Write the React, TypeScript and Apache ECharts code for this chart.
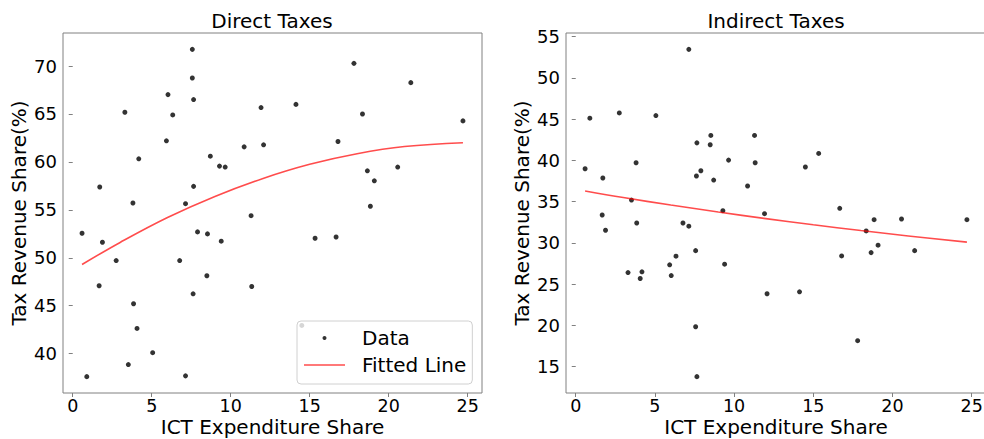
import React, { useEffect, useRef } from "react";
import * as echarts from "echarts";

// ICT expenditure share per country (shared x for both panels)
const ictShare = [
  0.59, 0.89, 1.67, 1.71, 1.88, 2.75, 3.3, 3.52, 3.81, 3.85, 4.07, 4.18, 5.06,
  5.93, 6.03, 6.33, 6.77, 7.14, 7.14, 7.57, 7.57, 7.62, 7.65, 7.65, 7.9, 8.49,
  8.53, 8.71, 9.29, 9.4, 9.65, 10.85, 11.29, 11.33, 11.92, 12.08, 14.13, 14.5,
  15.34, 16.67, 16.79, 17.8, 18.34, 18.65, 18.84, 19.09, 20.57, 21.4, 24.7,
];

const directShare = [
  52.56, 37.6, 47.08, 57.38, 51.62, 49.71, 65.18, 38.86, 55.71, 45.2, 42.63,
  60.32, 40.1, 62.2, 67.02, 64.9, 49.71, 55.64, 37.68, 71.74, 68.75, 46.24, 66.5,
  57.45, 52.7, 48.12, 52.49, 60.6, 59.56, 51.73, 59.46, 61.57, 54.39, 47.0,
  65.67, 61.78, 66.0, 42.94, 52.04, 52.17, 62.13, 70.28, 65.0, 59.07, 55.37,
  58.03, 59.46, 68.27, 64.28,
];

const indirectShare = [
  38.99, 45.12, 33.39, 37.87, 31.54, 45.76, 26.41, 35.2, 39.72, 32.42, 25.69,
  26.5, 45.44, 27.35, 26.05, 28.4, 32.42, 53.46, 32.03, 29.07, 19.85, 38.11,
  42.13, 13.8, 38.75, 41.9, 43.03, 37.62, 33.91, 27.43, 40.04, 36.9, 43.03,
  39.72, 33.55, 23.84, 24.08, 39.2, 40.85, 34.2, 28.43, 18.16, 31.46, 28.83,
  32.82, 29.73, 32.9, 29.07, 32.82,
];

// Fitted curves
const fitX = [0.59, 3, 6, 9, 12, 15, 18, 21, 24.7];
const directFit = [49.3, 51.6, 54.2, 56.4, 58.25, 59.75, 60.85, 61.6, 62.0];
const indirectFit = [36.3, 35.5, 34.6, 33.75, 32.95, 32.2, 31.5, 30.85, 30.1];

const xTicks = [0, 5, 10, 15, 20, 25];
const directTicks = [40, 45, 50, 55, 60, 65, 70];
const indirectTicks = [15, 20, 25, 30, 35, 40, 45, 50, 55];

const titles = ["Direct Taxes", "Indirect Taxes"];
const xName = "ICT Expenditure Share";
const yName = "Tax Revenue Share(%)";

function padExtent(vals: number[]): [number, number] {
  const mn = Math.min(...vals);
  const mx = Math.max(...vals);
  const r = mx - mn;
  return [mn - 0.05 * r, mx + 0.05 * r];
}

const FONT = "DejaVu Sans";
const GRID_LINE = "#808080";

function xAxisFor(gridIndex: number) {
  const ext = padExtent(ictShare);
  return {
    type: "value",
    gridIndex,
    min: ext[0],
    max: ext[1],
    name: xName,
    nameLocation: "middle",
    nameGap: 25,
    nameMoveOverlap: false,
    nameTextStyle: {
      fontSize: 20,
      color: "#000",
      fontFamily: FONT,
      lineHeight: 18,
    },
    axisLine: { show: false },
    axisTick: {
      show: true,
      length: 4,
      lineStyle: { color: GRID_LINE, width: 1 },
      customValues: xTicks,
    },
    axisLabel: {
      fontSize: 17.5,
      color: "#000",
      margin: 5,
      fontFamily: FONT,
      lineHeight: 15,
      customValues: xTicks,
    },
    splitLine: { show: false },
  };
}

function yAxisFor(gridIndex: number, vals: number[], ticks: number[]) {
  const ext = padExtent(vals);
  return {
    type: "value",
    gridIndex,
    min: ext[0],
    max: ext[1],
    name: yName,
    nameLocation: "middle",
    nameGap: 34,
    nameMoveOverlap: false,
    nameTextStyle: { fontSize: 20, color: "#000", fontFamily: FONT },
    axisLine: { show: false },
    axisTick: {
      show: true,
      length: 4,
      lineStyle: { color: GRID_LINE, width: 1 },
      customValues: ticks,
    },
    axisLabel: {
      fontSize: 18,
      color: "#000",
      margin: 6,
      fontFamily: FONT,
      customValues: ticks,
    },
    splitLine: { show: false },
  };
}

export default function App() {
  const ref = useRef<HTMLDivElement>(null);

  useEffect(() => {
    document.body.style.margin = "0";
    if (!ref.current) return;
    const chart = echarts.init(ref.current, null, { renderer: "svg" });

    const directPts = ictShare.map((x, i) => [x, directShare[i]]);
    const indirectPts = ictShare.map((x, i) => [x, indirectShare[i]]);
    const directFitPts = fitX.map((x, i) => [x, directFit[i]]);
    const indirectFitPts = fitX.map((x, i) => [x, indirectFit[i]]);

    const lineColor = "rgba(255,0,0,0.7)";

    chart.setOption({
      animation: false,
      textStyle: { fontFamily: FONT },
      grid: [
        {
          left: 63,
          top: 33,
          width: 419,
          height: 360,
          show: true,
          borderColor: GRID_LINE,
          borderWidth: 1,
          backgroundColor: "transparent",
          outerBoundsMode: "none",
        },
        {
          left: 566,
          top: 33,
          width: 420,
          height: 360,
          show: true,
          borderColor: GRID_LINE,
          borderWidth: 1,
          backgroundColor: "transparent",
          outerBoundsMode: "none",
        },
      ],
      xAxis: [xAxisFor(0), xAxisFor(1)],
      yAxis: [
        yAxisFor(0, directShare, directTicks),
        yAxisFor(1, indirectShare, indirectTicks),
      ],
      legend: {
        show: true,
        orient: "vertical",
        left: 297,
        top: 321,
        padding: [6, 6, 8, 7],
        itemGap: 5,
        itemWidth: 41,
        itemHeight: 4,
        backgroundColor: "rgba(255,255,255,0.8)",
        borderColor: "#d0d0d0",
        borderWidth: 1,
        borderRadius: 4,
        textStyle: {
          fontSize: 20,
          color: "#000",
          fontFamily: FONT,
          lineHeight: 22,
          padding: [0, 0, 0, 12],
        },
        data: [
          { name: "Data", icon: "circle" },
          {
            name: "Fitted Line",
            icon: "path://M0 0H41V1.6H0Z",
            itemStyle: { color: lineColor },
          },
        ],
        selectedMode: false,
      },
      graphic: titles.map((t, i) => ({
        type: "text",
        x: i === 0 ? 272 : 776,
        y: 21,
        style: {
          text: t,
          fontSize: 20,
          fontFamily: FONT,
          fill: "#000",
          textAlign: "center",
          textVerticalAlign: "middle",
        },
      })),
      series: [
        {
          name: "Data",
          type: "scatter",
          xAxisIndex: 0,
          yAxisIndex: 0,
          data: directPts,
          symbolSize: 5,
          itemStyle: { color: "#000" },
          z: 2,
        },
        {
          name: "Fitted Line",
          type: "line",
          xAxisIndex: 0,
          yAxisIndex: 0,
          data: directFitPts,
          smooth: 0.4,
          symbol: "none",
          showSymbol: false,
          lineStyle: { color: lineColor, width: 1.6 },
          itemStyle: { color: lineColor },
          z: 3,
        },
        {
          name: "Data",
          type: "scatter",
          xAxisIndex: 1,
          yAxisIndex: 1,
          data: indirectPts,
          symbolSize: 5,
          itemStyle: { color: "#000" },
          z: 2,
        },
        {
          name: "Fitted Line",
          type: "line",
          xAxisIndex: 1,
          yAxisIndex: 1,
          data: indirectFitPts,
          smooth: 0.4,
          symbol: "none",
          showSymbol: false,
          lineStyle: { color: lineColor, width: 1.6 },
          itemStyle: { color: lineColor },
          z: 3,
        },
      ],
    });

    return () => {
      chart.dispose();
    };
  }, []);

  return <div ref={ref} style={{ width: 984, height: 439 }} />;
}
